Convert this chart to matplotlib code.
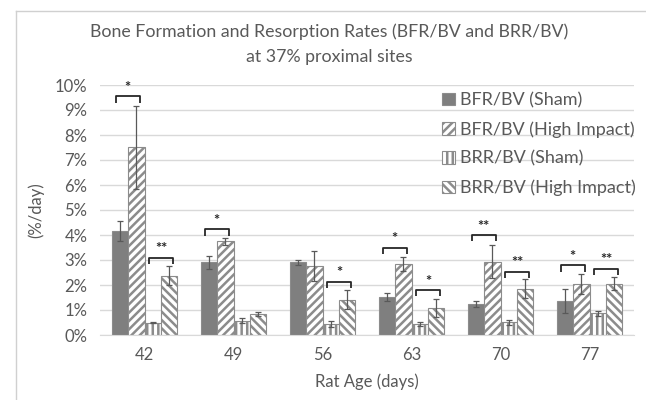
import matplotlib
matplotlib.use("Agg")
import matplotlib.pyplot as plt
from matplotlib.lines import Line2D
from matplotlib.ticker import PercentFormatter
import numpy as np

plt.rcParams['font.family'] = ['Lato', 'DejaVu Sans']
plt.rcParams['hatch.linewidth'] = 1.8

ages = ["42", "49", "56", "63", "70", "77"]

bfr_sham = [4.15, 2.91, 2.91, 1.52, 1.23, 1.37]
bfr_sham_err = [0.40, 0.26, 0.10, 0.17, 0.12, 0.48]
bfr_hi = [7.52, 3.75, 2.77, 2.85, 2.94, 2.06]
bfr_hi_err = [1.66, 0.13, 0.60, 0.28, 0.67, 0.40]
brr_sham = [0.50, 0.57, 0.44, 0.44, 0.51, 0.87]
brr_sham_err = [0.03, 0.10, 0.11, 0.08, 0.10, 0.10]
brr_hi = [2.37, 0.84, 1.41, 1.10, 1.86, 2.06]
brr_hi_err = [0.38, 0.08, 0.38, 0.36, 0.37, 0.27]

# significance marks (bracket height in %, label); None = no bracket
bfr_sig = [(9.55, "*"), (4.23, "*"), None, (3.50, "*"), (4.00, "**"), (2.79, "*")]
brr_sig = [(3.10, "**"), None, (2.14, "*"), (1.80, "*"), (2.54, "**"), (2.66, "**")]

fig = plt.figure(figsize=(6.46, 4.0), dpi=100)
ax = fig.add_axes([100 / 646, 1 - 335 / 400, 534 / 646, 250 / 400])

x = np.arange(len(ages))
w = 0.183
gray = "#7f7f7f"
ecol = "#8c8c8c"
err_kw = dict(ecolor="#595959", elinewidth=0.9, capsize=2.5, capthick=0.9)

series = [
    (bfr_sham, bfr_sham_err, "BFR/BV (Sham)", gray, None),
    (bfr_hi, bfr_hi_err, "BFR/BV (High Impact)", "white", "////"),
    (brr_sham, brr_sham_err, "BRR/BV (Sham)", "white", "|||"),
    (brr_hi, brr_hi_err, "BRR/BV (High Impact)", "white", "\\\\\\\\"),
]
for i, (vals, errs, label, fc, hatch) in enumerate(series):
    pos = x + (i - 1.5) * w
    ax.bar(pos, np.array(vals) / 100, w, color=fc, edgecolor=ecol, hatch=hatch,
           linewidth=0.8, label=label, zorder=2)
    ax.errorbar(pos, np.array(vals) / 100, yerr=np.array(errs) / 100, fmt="none",
                zorder=3, **err_kw)


def bracket(x0, x1, h, txt):
    h = h / 100
    leg = 0.0025
    ax.plot([x0, x0, x1, x1], [h - leg, h, h, h - leg], color="#262626", lw=1.3,
            zorder=4, solid_capstyle="butt")
    ax.text((x0 + x1) / 2, h + 0.0005, txt, ha="center", va="bottom",
            fontsize=10.5, fontweight="bold", color="#262626")


for i in range(len(ages)):
    if bfr_sig[i]:
        bracket(x[i] - 1.75 * w, x[i] - 0.3 * w, *bfr_sig[i])
    if brr_sig[i]:
        bracket(x[i] + 0.3 * w, x[i] + 1.75 * w, *brr_sig[i])

ax.set_xlim(-0.5, len(ages) - 0.5)
ax.set_ylim(0, 0.10)
ax.set_yticks(np.arange(0, 0.101, 0.01))
ax.yaxis.set_major_formatter(PercentFormatter(1.0, decimals=0))
ax.set_xticks(x)
ax.set_xticklabels(ages)
ax.tick_params(axis="both", length=0, labelsize=12, colors="#595959", pad=9)
ax.grid(axis="y", color="#d9d9d9", linewidth=1.0, zorder=0)
ax.set_axisbelow(True)
for s in ["top", "right", "left"]:
    ax.spines[s].set_visible(False)
ax.spines["bottom"].set_color("#d9d9d9")

ax.set_xlabel("Rat Age (days)", fontsize=12, color="#595959", labelpad=7)
ax.set_ylabel("(%/day)", fontsize=12, color="#595959", labelpad=8)

fig.text(0.51, 1 - 32 / 400, "Bone Formation and Resorption Rates (BFR/BV and BRR/BV)",
         ha="center", va="center", fontsize=12.8, color="#595959")
fig.text(0.51, 1 - 57 / 400, "at 37% proximal sites",
         ha="center", va="center", fontsize=12.8, color="#595959")

ax.legend(loc="upper left", bbox_to_anchor=(0.62, 1.015), frameon=False,
          fontsize=13, labelcolor="#595959", handlelength=0.7, handleheight=0.7,
          handletextpad=0.3, labelspacing=0.72, borderaxespad=0.2)

# chart area border
fig.add_artist(Line2D([16 / 646, 16 / 646], [0, 1 - 11 / 400], color="#d0d0d0", lw=1))
fig.add_artist(Line2D([16 / 646, 1], [1 - 11 / 400, 1 - 11 / 400], color="#d0d0d0", lw=1))

fig.savefig("out.png", dpi=100)
